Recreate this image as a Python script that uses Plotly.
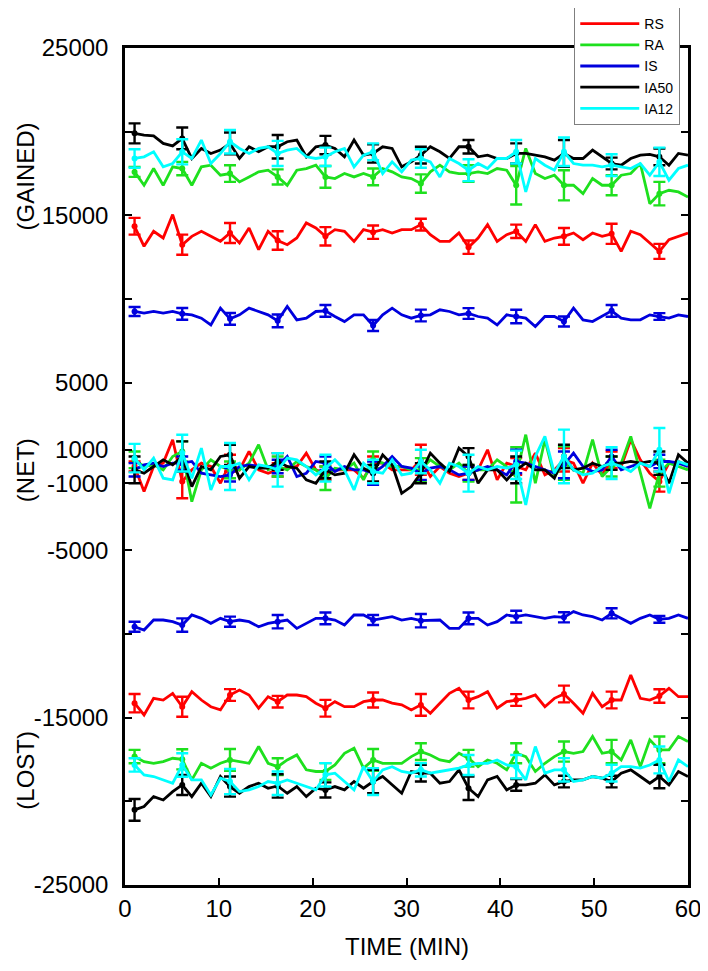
import plotly.graph_objects as go

# time points (min)
TIME = [1.02, 2.03, 3.05, 4.07, 5.08, 6.10, 7.12, 8.14, 9.15, 10.17,
        11.19, 12.20, 13.22, 14.24, 15.25, 16.27, 17.29, 18.31, 19.32, 20.34,
        21.36, 22.37, 23.39, 24.41, 25.42, 26.44, 27.46, 28.47, 29.49, 30.51,
        31.53, 32.54, 33.56, 34.58, 35.59, 36.61, 37.63, 38.64, 39.66, 40.68,
        41.69, 42.71, 43.73, 44.75, 45.76, 46.78, 47.80, 48.81, 49.83, 50.85,
        51.86, 52.88, 53.90, 54.92, 55.93, 56.95, 57.97, 58.98, 60.00]

NAMES = ["RS", "RA", "IS", "IA50", "IA12"]
COLORS = ["#ff0000", "#1ee01e", "#0000dd", "#000000", "#00ffff"]

# ---------------- GAINED ----------------
RS_GAINED = [14350, 13150, 14050, 13650, 15050, 13250, 13750, 14050, 13750, 13450,
             13950, 13350, 14250, 12950, 14050, 13500, 13250, 13650, 14550, 14250,
             13750, 14150, 14050, 13450, 14150, 14000, 14150, 13950, 14150, 14150,
             14450, 13850, 13450, 13450, 13950, 13100, 13650, 14450, 13450, 13850,
             14050, 13450, 14450, 13450, 13650, 13750, 13950, 13550, 13950, 13750,
             13900, 12850, 14050, 13850, 13350, 12850, 13550, 13750, 13950]
RA_GAINED = [17600, 16800, 17800, 16800, 17900, 17800, 16800, 17900, 18000, 17400,
             17500, 17000, 17300, 17600, 17700, 17300, 16800, 17700, 17800, 18000,
             17300, 17200, 17500, 17300, 17500, 17300, 17800, 17600, 17300, 17200,
             16900, 17600, 18000, 17600, 17500, 17500, 17600, 17500, 17800, 17700,
             16800, 19000, 17500, 17200, 17400, 16800, 16800, 16300, 17200, 16800,
             16800, 17400, 17500, 18100, 15700, 16300, 16500, 16400, 16100]
IS_GAINED = [9260, 9160, 9260, 9160, 9260, 9120, 9060, 8860, 8460, 9460,
             8820, 9060, 9460, 9260, 9060, 8700, 9560, 8760, 8860, 9260,
             9300, 8960, 8660, 9060, 9060, 8420, 9060, 9460, 9060, 8860,
             9020, 9060, 9360, 9260, 9060, 9140, 8960, 8860, 8460, 9060,
             8960, 8860, 8360, 8960, 8960, 8660, 9460, 8760, 8660, 8960,
             9300, 8860, 8760, 8760, 9060, 8960, 8860, 9060, 8960]
IA50_GAINED = [19900, 19800, 19750, 19300, 19150, 19600, 18400, 19000, 18700, 18900,
               19300, 18400, 19100, 18800, 19100, 19100, 19400, 19500, 18500, 19100,
               19200, 19000, 18500, 19500, 18600, 18700, 19100, 19000, 17900, 18200,
               18600, 19100, 18800, 18400, 19100, 19100, 18500, 18600, 18400, 18400,
               18700, 18700, 18600, 18500, 18300, 18700, 18400, 18400, 18900, 18500,
               18100, 18000, 18400, 18600, 18650, 18500, 18000, 18700, 18600]
IA12_GAINED = [18400, 18500, 18800, 17900, 18100, 18800, 18400, 19500, 18100, 18700,
               19400, 19000, 18700, 19000, 19100, 18700, 18900, 19000, 18500, 18400,
               18500, 18800, 19000, 17900, 18600, 18800, 17500, 18200, 17600, 18300,
               18400, 18200, 17300, 18400, 18100, 17700, 18100, 17800, 18400, 18400,
               18800, 16400, 18400, 18000, 17700, 18800, 18100, 18000, 18000, 17900,
               18000, 17900, 17800, 18100, 17400, 18200, 17100, 17800, 18000]

# ---------------- NET ----------------
RS_NET = [0, -1500, 0, 200, 1600, -900, -200, 200, 0, -1000,
          200, -200, 900, -200, -400, -200, -100, 0, 800, -200,
          -400, -200, -200, -200, -700, 200, 200, -200, -200, -200,
          400, -600, 0, -400, -600, -400, -200, 1000, -800, 200,
          0, -200, 800, -500, -200, 400, 200, -1000, 200, -500,
          400, 0, 1600, 400, -400, -900, 200, 300, 0]
RA_NET = [400, 0, 100, -200, 600, 900, -2100, -200, 400, 0,
          -200, -200, 200, 1300, -200, 0, -200, 300, 0, -200,
          -700, -100, -200, 200, -800, 400, 200, 0, 0, -200,
          -200, 400, 0, -200, 200, -400, -200, -200, 400, 0,
          -500, 1900, -1000, 1600, -600, 200, -200, -400, 1600, -600,
          0, 200, 1800, -400, -2500, -400, 200, 0, -200]
IS_NET = [-200, 100, 200, 0, 200, 200, 300, -400, -500, -600,
          -500, 0, 100, 0, 0, 0, 600, -600, -400, 300,
          200, -300, 0, -200, -200, -400, 0, 600, 0, -100,
          -400, -100, 0, -200, -500, -400, -200, 0, -200, -500,
          300, 200, 0, -200, -400, 100, 800, 0, -300, -200,
          600, -200, 0, 200, 0, 300, 300, 200, 0]
IA50_NET = [-200, -400, 0, 400, 100, 600, -1200, 0, -200, 600,
            700, -700, 0, -100, -100, 300, 0, -100, -800, -1000,
            -200, -500, -400, 700, -100, -400, 700, 100, -1600, -1200,
            -400, 800, 200, -300, 1100, 600, -1000, -200, -200, -800,
            -200, 200, -200, -200, -700, 600, -200, -100, 200, 0,
            200, 200, 300, 200, 300, 200, -1000, 700, 200]
IA12_NET = [500, -200, 500, -700, -800, 800, -700, 1100, -1400, 0,
            0, 200, -800, 100, 0, -200, 500, 400, 0, -500,
            -100, 400, -200, -1400, 200, -300, -400, 400, -500, -400,
            300, -200, -1000, 200, 0, -400, 0, -200, 0, -100,
            100, -2300, 600, 1800, -400, 600, -200, -500, -400, 0,
            200, 0, -300, 200, 0, 1000, -1600, 300, 100]

# ---------------- LOST ----------------
RS_LOST = [-14140, -14840, -13850, -13950, -13550, -14350, -13450, -13950, -14350, -14540,
           -13650, -13350, -13650, -14440, -13750, -14050, -13650, -13650, -13750, -14140,
           -14440, -14050, -14350, -14350, -14050, -13950, -13950, -14140, -14240, -14540,
           -14240, -14740, -14140, -13550, -13250, -13950, -13750, -13450, -14440, -14050,
           -13950, -13850, -13650, -14350, -13850, -13590, -14140, -14740, -13550, -14350,
           -13950, -13950, -12450, -13850, -13950, -13710, -13250, -13750, -13750]
RA_LOST = [-17330, -17630, -17730, -17630, -17430, -17490, -18720, -17730, -18020, -17730,
           -17530, -17630, -17730, -16730, -17730, -17930, -17530, -17230, -18120, -18220,
           -18220, -17830, -17130, -16830, -18020, -17530, -17730, -17730, -17730, -17330,
           -17030, -17230, -17530, -17630, -17130, -17430, -17930, -17530, -17730, -18120,
           -17130, -17330, -18220, -17730, -17330, -17030, -17130, -17030, -16130, -17130,
           -17030, -17530, -16330, -17930, -16330, -16930, -16930, -16130, -16430]
IS_LOST = [-9570, -9770, -9170, -9170, -9270, -9470, -8870, -9070, -9370, -9070,
           -9270, -9170, -9270, -9570, -9370, -9270, -9170, -9670, -9370, -9070,
           -9070, -9170, -9470, -8870, -8870, -9170, -9070, -8970, -9170, -9070,
           -9210, -9170, -9170, -9670, -9670, -9070, -9070, -9470, -9270, -8870,
           -8970, -8870, -8970, -9070, -8970, -9010, -8670, -8870, -8970, -9170,
           -8770, -9070, -9370, -9070, -8870, -9130, -9070, -8870, -9070]
IA50_LOST = [-20510, -20310, -19720, -19920, -19420, -19020, -19720, -18920, -19720, -18520,
             -19120, -19520, -19120, -18920, -19220, -19080, -19520, -19120, -19720, -19220,
             -19320, -19120, -19320, -18820, -19220, -18820, -18520, -19020, -19520, -18220,
             -18320, -18320, -18920, -18820, -18120, -19220, -19720, -18720, -18520, -19320,
             -19020, -19020, -18920, -18420, -19020, -18820, -18720, -18720, -18520, -18620,
             -18820, -18320, -18120, -18520, -18920, -18520, -19020, -18220, -18520]
IA12_LOST = [-17830, -18420, -18520, -18720, -18920, -17830, -18720, -18720, -19620, -18620,
             -18820, -19420, -19320, -19120, -18820, -18920, -18720, -18920, -19120, -19320,
             -18420, -18320, -18820, -19320, -17930, -18820, -18120, -17930, -18220, -18320,
             -18120, -18320, -18220, -18120, -18020, -17830, -17730, -17730, -17530, -17830,
             -17930, -18720, -16730, -18320, -18120, -18120, -18820, -18720, -18520, -18620,
             -18320, -17930, -17930, -18020, -17830, -17530, -18820, -17530, -17930]

# error bars at every 5th time point, starting with the first
RS_GAINED_ERR = [500, 600, 600, 550, 550, 400, 350, 400, 400, 500, 600, 450]
RA_GAINED_ERR = [300, 400, 500, 450, 650, 500, 550, 500, 1150, 900, 600, 700]
IS_GAINED_ERR = [270, 350, 350, 380, 350, 330, 350, 320, 400, 300, 350, 200]
IA50_GAINED_ERR = [600, 650, 650, 700, 550, 550, 500, 400, 600, 800, 350, 500]
IA12_GAINED_ERR = [550, 750, 700, 750, 550, 500, 550, 650, 700, 850, 650, 850]

RS_NET_ERR = [300, 1000, 500, 400, 400, 400, 900, 400, 500, 700, 500, 600]
RA_NET_ERR = [500, 600, 500, 600, 700, 500, 700, 500, 1650, 1000, 600, 800]
IS_NET_ERR = [400, 400, 400, 400, 400, 700, 400, 400, 700, 800, 400, 400]
IA50_NET_ERR = [800, 900, 600, 500, 500, 500, 600, 500, 800, 700, 400, 700]
IA12_NET_ERR = [850, 1100, 1400, 1000, 800, 700, 700, 1100, 850, 1600, 950, 1300]

RS_LOST_ERR = [550, 600, 350, 350, 500, 450, 650, 500, 350, 500, 500, 400]
RA_LOST_ERR = [400, 600, 650, 500, 500, 650, 500, 500, 600, 600, 700, 800]
IS_LOST_ERR = [300, 400, 300, 400, 350, 300, 400, 350, 350, 300, 300, 200]
IA50_LOST_ERR = [650, 600, 600, 700, 450, 700, 500, 700, 350, 350, 350, 700]
IA12_LOST_ERR = [400, 700, 750, 700, 700, 800, 400, 600, 700, 700, 500, 800]

Y_TICKS = [25000, 20000, 15000, 10000, 5000, 1000, -1000, -5000, -10000, -15000, -20000, -25000]
Y_TICKTEXT = ["25000", "", "15000", "", "5000", "1000", "-1000", "-5000", "", "-15000", "", "-25000"]
X_TICKS = [0, 10, 20, 30, 40, 50, 60]

PANELS = [
    [RS_GAINED, RA_GAINED, IS_GAINED, IA50_GAINED, IA12_GAINED],
    [RS_NET, RA_NET, IS_NET, IA50_NET, IA12_NET],
    [RS_LOST, RA_LOST, IS_LOST, IA50_LOST, IA12_LOST],
]
PANEL_ERRS = [
    [RS_GAINED_ERR, RA_GAINED_ERR, IS_GAINED_ERR, IA50_GAINED_ERR, IA12_GAINED_ERR],
    [RS_NET_ERR, RA_NET_ERR, IS_NET_ERR, IA50_NET_ERR, IA12_NET_ERR],
    [RS_LOST_ERR, RA_LOST_ERR, IS_LOST_ERR, IA50_LOST_ERR, IA12_LOST_ERR],
]

FONT = "Liberation Sans, Arial, sans-serif"

fig = go.Figure()
for p, (series, errs) in enumerate(zip(PANELS, PANEL_ERRS)):
    for s, (vals, err) in enumerate(zip(series, errs)):
        fig.add_trace(go.Scatter(
            x=TIME, y=vals, mode="lines", name=NAMES[s],
            legendgroup=NAMES[s], showlegend=(p == 0),
            line=dict(color=COLORS[s], width=2.8), hoverinfo="skip"))
        idx = list(range(0, len(TIME), 5))[:len(err)]
        fig.add_trace(go.Scatter(
            x=[TIME[i] for i in idx], y=[vals[i] for i in idx], mode="markers",
            marker=dict(size=0, color=COLORS[s]), showlegend=False,
            legendgroup=NAMES[s], hoverinfo="skip",
            error_y=dict(type="data", array=err, color=COLORS[s], thickness=2.4, width=6)))

# the page body adds an 8px offset, so the figure is 8px smaller and margins shifted
fig.update_layout(
    width=700, height=963,
    margin=dict(l=117, r=20, t=40, b=86, autoexpand=False),
    plot_bgcolor="white", paper_bgcolor="white",
    font=dict(family=FONT, size=24, color="black"),
    showlegend=True,
    legend=dict(x=0.798, y=1.049, xanchor="left", yanchor="top",
                bgcolor="white", bordercolor="#7f7f7f", borderwidth=1,
                font=dict(size=14), tracegroupgap=0, itemwidth=59),
    xaxis=dict(range=[0, 60], tickvals=X_TICKS, ticks="inside", ticklen=7, tickwidth=2,
               tickcolor="black", showline=True, linecolor="black", linewidth=2.5,
               mirror=True, showgrid=False, zeroline=False,
               tickfont=dict(size=24)),
    yaxis=dict(range=[-25000, 25000], tickvals=Y_TICKS, ticktext=Y_TICKTEXT,
               ticks="inside", ticklen=7, tickwidth=2, tickcolor="black",
               showline=True, linecolor="black", linewidth=2.5, mirror="ticks",
               showgrid=False, zeroline=False, tickfont=dict(size=24),
               ticklabelstandoff=9),
)

for txt, yy in [("(GAINED)", 0.847), ("(NET)", 0.496), ("(LOST)", 0.137)]:
    fig.add_annotation(text=txt, x=-0.177, y=yy, xref="paper", yref="paper",
                       xanchor="center", yanchor="middle",
                       textangle=-90, showarrow=False, font=dict(size=24))
fig.add_annotation(text="TIME (MIN)", x=0.5, y=-0.073, xref="paper", yref="paper",
                   xanchor="center", yanchor="middle",
                   showarrow=False, font=dict(size=24))

fig.write_html("out.html")
